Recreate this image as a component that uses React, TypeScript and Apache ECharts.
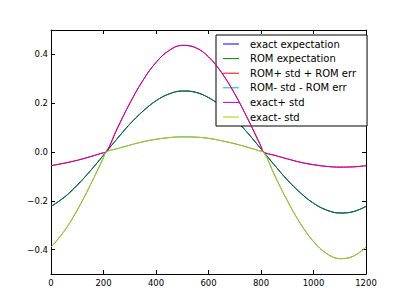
import React, { useEffect, useRef } from "react";
import * as echarts from "echarts";

const xs = [0, 50, 100, 150, 200, 210, 250, 300, 350, 400, 450, 500, 550, 600, 650, 700, 750, 800, 810, 850, 900, 950, 1000, 1050, 1100, 1150, 1200];

const exactExpectation = [-0.223, -0.186, -0.136, -0.077, -0.013, 0, 0.052, 0.114, 0.167, 0.21, 0.238, 0.25, 0.245, 0.223, 0.186, 0.136, 0.077, 0.013, 0, -0.052, -0.114, -0.167, -0.21, -0.238, -0.25, -0.245, -0.223];
const romExpectation = [-0.223, -0.186, -0.136, -0.077, -0.013, 0, 0.052, 0.114, 0.167, 0.21, 0.238, 0.25, 0.245, 0.223, 0.186, 0.136, 0.077, 0.013, 0, -0.052, -0.114, -0.167, -0.21, -0.238, -0.25, -0.245, -0.223];
const romPlus = [-0.056, -0.046, -0.034, -0.019, -0.003, 0, 0.091, 0.199, 0.293, 0.367, 0.416, 0.437, 0.428, 0.39, 0.325, 0.238, 0.135, 0.023, 0, -0.013, -0.028, -0.042, -0.052, -0.059, -0.062, -0.061, -0.056];
const romMinus = [-0.39, -0.325, -0.238, -0.135, -0.023, 0, 0.013, 0.028, 0.042, 0.052, 0.059, 0.062, 0.061, 0.056, 0.046, 0.034, 0.019, 0.003, 0, -0.091, -0.199, -0.293, -0.367, -0.416, -0.437, -0.428, -0.39];
const exactPlus = [-0.056, -0.046, -0.034, -0.019, -0.003, 0, 0.091, 0.199, 0.293, 0.367, 0.416, 0.437, 0.428, 0.39, 0.325, 0.238, 0.135, 0.023, 0, -0.013, -0.028, -0.042, -0.052, -0.059, -0.062, -0.061, -0.056];
const exactMinus = [-0.39, -0.325, -0.238, -0.135, -0.023, 0, 0.013, 0.028, 0.042, 0.052, 0.059, 0.062, 0.061, 0.056, 0.046, 0.034, 0.019, 0.003, 0, -0.091, -0.199, -0.293, -0.367, -0.416, -0.437, -0.428, -0.39];

const seriesNames = ["exact expectation", "ROM expectation", "ROM+ std + ROM err", "ROM- std - ROM err", "exact+ std", "exact- std"];
const seriesValues = [exactExpectation, romExpectation, romPlus, romMinus, exactPlus, exactMinus];
const seriesColors = ["#0000ff", "#008000", "#ff0000", "#00bfbf", "#bf00bf", "#bfbf00"];

const yTicks = [-0.4, -0.2, 0, 0.2, 0.4];

const FONT = "DejaVu Sans";

export default function App() {
  const ref = useRef<HTMLDivElement>(null);
  useEffect(() => {
    if (!ref.current) return;
    const chart = echarts.init(ref.current, null, { renderer: "svg" });
    const fmtY = (v: number) => {
      const s = Math.abs(v).toFixed(1);
      return v < -1e-9 ? "\u2212" + s : s;
    };
    const axisLine = { show: true, onZero: false, lineStyle: { color: "#000", width: 1 } };
    const tick = { show: true, inside: true, length: 4, lineStyle: { color: "#000", width: 1 } };
    chart.setOption({
      animation: false,
      backgroundColor: "#fff",
      grid: { left: 51, right: 41, top: 30, bottom: 31, containLabel: false },
      xAxis: [
        {
          type: "value", min: 0, max: 1200, interval: 200, position: "bottom",
          axisLine, axisTick: tick, splitLine: { show: false },
          axisLabel: { show: true, margin: 4, color: "#000", fontFamily: FONT, fontSize: 8.5, formatter: (v: number) => String(v) },
        },
        {
          type: "value", min: 0, max: 1200, interval: 200, position: "top",
          axisLine, axisTick: tick, splitLine: { show: false }, axisLabel: { show: false },
        },
      ],
      yAxis: [
        {
          type: "value", min: -0.5, max: 0.5, position: "left",
          axisLine, splitLine: { show: false },
          axisTick: { ...tick, customValues: yTicks },
          axisLabel: { show: true, margin: 3, color: "#000", fontFamily: FONT, fontSize: 8.5, customValues: yTicks, formatter: fmtY },
        },
        {
          type: "value", min: -0.5, max: 0.5, position: "right",
          axisLine, splitLine: { show: false },
          axisTick: { ...tick, customValues: yTicks },
          axisLabel: { show: false },
        },
      ],
      legend: {
        orient: "vertical",
        left: 216,
        top: 35,
        padding: [2, 11, 2, 7],
        backgroundColor: "#fff",
        borderColor: "#000",
        borderWidth: 1,
        borderRadius: 0,
        itemWidth: 16,
        itemHeight: 1,
        itemGap: 0.6,
        icon: "rect",
        textStyle: { fontFamily: FONT, fontSize: 10, color: "#000", lineHeight: 14, padding: [0, 0, 0, 6] },
        data: seriesNames,
      },
      series: seriesNames.map((name, i) => ({
        name,
        type: "line",
        data: xs.map((x, j) => [x, seriesValues[i][j]]),
        smooth: 0.4,
        showSymbol: false,
        symbol: "none",
        color: seriesColors[i],
        lineStyle: { color: seriesColors[i], width: 1 },
        z: 2 + i,
      })),
    });
    return () => chart.dispose();
  }, []);
  return <div ref={ref} style={{ position: "fixed", left: 0, top: 0, width: 407, height: 305 }} />;
}
